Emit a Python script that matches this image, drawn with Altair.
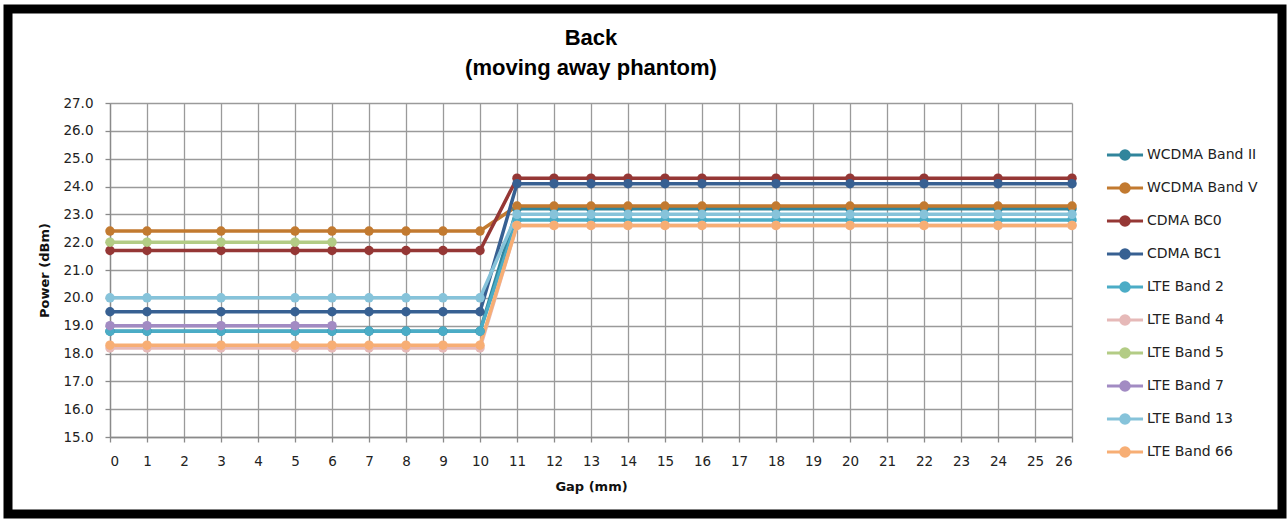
import altair as alt
import pandas as pd

title_lines = ["Back", "(moving away phantom)"]

series_names = ["WCDMA Band II", "WCDMA Band V", "CDMA BC0", "CDMA BC1", "LTE Band 2",
                "LTE Band 4", "LTE Band 5", "LTE Band 7", "LTE Band 13", "LTE Band 66"]
series_colors = ["#31859C", "#C27A30", "#953735", "#376092", "#4BACC6",
                 "#E6B9B8", "#B3CC85", "#A28BC3", "#86C3DA", "#F7AE74"]

gap_full = [0, 1, 3, 5, 6, 7, 8, 9, 10, 11, 12, 13, 14, 15, 16, 18, 20, 22, 24, 26]
gap_short = [0, 1, 3, 5, 6]

wcdma_ii = [18.8] * 9 + [23.2] * 11
wcdma_v = [22.4] * 9 + [23.3] * 11
cdma_bc0 = [21.7] * 9 + [24.3] * 11
cdma_bc1 = [19.5] * 9 + [24.1] * 11
lte_2 = [18.8] * 9 + [22.8] * 11
lte_4 = [18.2] * 9 + [22.6] * 11
lte_5 = [22.0] * 5
lte_7 = [19.0] * 5
lte_13 = [20.0] * 9 + [23.0] * 11
lte_66 = [18.3] * 9 + [22.6] * 11

series_values = [wcdma_ii, wcdma_v, cdma_bc0, cdma_bc1, lte_2, lte_4, lte_5, lte_7, lte_13, lte_66]

rows = []
for i, (name, vals) in enumerate(zip(series_names, series_values)):
    xs = gap_full if len(vals) == len(gap_full) else gap_short
    for x, v in zip(xs, vals):
        rows.append({"Series": name, "Gap": x, "Power": v, "idx": i})
df = pd.DataFrame(rows)

FONT = "DejaVu Sans"

color = alt.Color(
    "Series:N",
    sort=series_names,
    scale=alt.Scale(domain=series_names, range=series_colors),
    legend=alt.Legend(
        title=None, orient="none", legendX=995, legendY=32,
        symbolType="M-1,0H1M-0.24,0A0.24,0.24,0,1,1,0.24,0A0.24,0.24,0,1,1,-0.24,0Z",
        symbolSize=1300, symbolStrokeWidth=3,
        labelFont=FONT, labelFontSize=14, labelColor="#222222",
        labelOffset=2, rowPadding=2, padding=0,
    ),
)

lines = alt.Chart(df).mark_line(
    strokeWidth=3.5, point=alt.OverlayMarkDef(filled=True, size=90, opacity=1)
).encode(
    x=alt.X("Gap:Q", scale=alt.Scale(domain=[0, 26], nice=False),
            axis=alt.Axis(values=list(range(27)), title="Gap (mm)", format="d")),
    y=alt.Y("Power:Q", scale=alt.Scale(domain=[15, 27], nice=False),
            axis=alt.Axis(values=list(range(15, 28)), title="Power (dBm)", format=".1f")),
    color=color,
    detail="Series:N",
    order="Gap:Q",
)

frame = alt.Chart(pd.DataFrame({"a": [0]})).mark_rect(
    fillOpacity=0, stroke="black", strokeWidth=9, clip=False
).encode(
    x=alt.value(-102), x2=alt.value(1172), y=alt.value(-94), y2=alt.value(411)
)

title = alt.Chart(pd.DataFrame({"a": [0]})).mark_text(
    text=title_lines, font="Liberation Sans", fontSize=22, fontWeight="bold",
    align="center", baseline="alphabetic", lineHeight=30, color="black", clip=False
).encode(
    x=alt.value(481), y=alt.value(-58)
)

chart = alt.layer(lines, frame, title).properties(
    width=962, height=334,
    padding={"left": 110, "top": 103, "right": 215, "bottom": 82},
    autosize=alt.AutoSizeParams(type="none"),
    background="white",
).configure_axis(
    labelFont=FONT, labelFontSize=13.5, labelColor="#222222",
    titleFont=FONT, titleFontSize=13, titleFontWeight="bold", titleColor="#111111",
    gridColor="#9a9a9a", gridWidth=1.3, gridOpacity=1,
    domainColor="#8a8a8a", domainWidth=1.3,
    tickColor="#8a8a8a", tickSize=5, tickWidth=1.3,
).configure_axisX(
    labelPadding=12, titlePadding=13,
).configure_axisY(
    labelPadding=12, titlePadding=11,
).configure_view(stroke=None)

chart.save("out.html", embed_options={"renderer": "svg", "actions": False})
